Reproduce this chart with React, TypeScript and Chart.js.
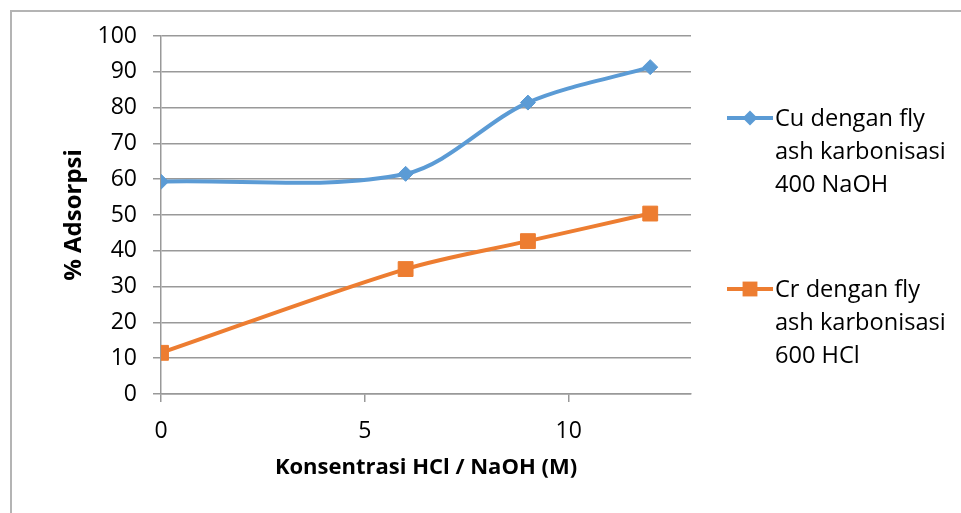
import React, { useEffect, useRef } from "react";
import { Chart, registerables } from "chart.js";

Chart.register(...registerables);

const xValues = [0, 6, 9, 12];
const cuValues = [59.3, 61.5, 81.4, 91.3];
const crValues = [11.5, 34.9, 42.7, 50.4];
const seriesLabels = [
  ["Cu dengan fly", "ash karbonisasi", "400 NaOH"],
  ["Cr dengan fly", "ash karbonisasi", "600 HCl"],
];
const xTitle = "Konsentrasi HCl / NaOH (M)";
const yTitle = "% Adsorpsi";
const xTicks = [0, 5, 10];

const BLUE = "#5b9bd5";
const ORANGE = "#ed7d31";
const GRID = "#999999";
const FONT = "'Open Sans', Lato, sans-serif";

const legendPlugin = {
  id: "sideLegend",
  afterDraw(chart: any) {
    const ctx = chart.ctx;
    const items = [
      { y: 118, color: BLUE, style: "rectRot", radius: 7.5 },
      { y: 289, color: ORANGE, style: "rect", radius: 10.5 },
    ];
    ctx.save();
    chart.data.datasets.forEach((ds: any, i: number) => {
      const it = items[i];
      ctx.strokeStyle = it.color;
      ctx.lineWidth = 4;
      ctx.beginPath();
      ctx.moveTo(727, it.y);
      ctx.lineTo(773, it.y);
      ctx.stroke();
      ctx.fillStyle = it.color;
      ctx.beginPath();
      if (it.style === "rect") {
        const s = it.radius * Math.SQRT1_2;
        ctx.rect(750 - s, it.y - s, 2 * s, 2 * s);
      } else {
        ctx.moveTo(750, it.y - it.radius);
        ctx.lineTo(750 + it.radius, it.y);
        ctx.lineTo(750, it.y + it.radius);
        ctx.lineTo(750 - it.radius, it.y);
        ctx.closePath();
      }
      ctx.fill();
      ctx.fillStyle = "#000";
      ctx.font = `23.6px ${FONT}`;
      ctx.textBaseline = "middle";
      ctx.textAlign = "left";
      const lines: string[] = ds.label;
      lines.forEach((ln, j) => {
        ctx.fillText(ln, 775, it.y + 1 + j * 33);
      });
    });
    ctx.restore();
  },
};

export default function App() {
  const ref = useRef<HTMLCanvasElement>(null);
  useEffect(() => {
    document.body.style.margin = "0";
    const chart = new Chart(ref.current!, {
      type: "scatter",
      data: {
        datasets: [
          {
            label: seriesLabels[0] as any,
            data: xValues.map((x, i) => ({ x, y: cuValues[i] })),
            showLine: true,
            borderColor: BLUE,
            backgroundColor: BLUE,
            borderWidth: 4,
            pointStyle: "rectRot",
            pointRadius: 7.5,
            pointBorderWidth: 1,
            tension: 0.32,
          },
          {
            label: seriesLabels[1] as any,
            data: xValues.map((x, i) => ({ x, y: crValues[i] })),
            showLine: true,
            borderColor: ORANGE,
            backgroundColor: ORANGE,
            borderWidth: 4,
            pointStyle: "rect",
            pointRadius: 10.5,
            pointBorderWidth: 1,
            tension: 0.32,
          },
        ],
      },
      options: {
        animation: false,
        responsive: false,
        layout: { padding: { top: 36, right: 270, left: 0, bottom: 0 } },
        plugins: { legend: { display: false }, tooltip: { enabled: false } },
        scales: {
          x: {
            type: "linear",
            min: 0,
            max: 13,
            afterBuildTicks: (scale: any) => {
              scale.ticks = xTicks.map((v) => ({ value: v }));
            },
            afterFit: (scale: any) => {
              scale.height = 119;
            },
            grid: {
              drawOnChartArea: false,
              drawTicks: true,
              tickLength: 8,
              color: GRID,
              lineWidth: 1.5,
            },
            border: { display: true, color: GRID, width: 1.5 },
            ticks: {
              font: { family: FONT, size: 23 },
              color: "#000",
              padding: 16,
              maxRotation: 0,
            },
            title: {
              display: true,
              text: xTitle,
              font: { family: FONT, size: 22, weight: "bold" },
              color: "#000",
              padding: { top: 0, bottom: 32 },
            },
          },
          y: {
            min: 0,
            max: 100,
            ticks: {
              stepSize: 10,
              font: { family: FONT, size: 23 },
              color: "#000",
              padding: 16,
            },
            afterFit: (scale: any) => {
              scale.width = 161;
            },
            grid: {
              drawTicks: true,
              tickLength: 8,
              color: GRID,
              lineWidth: 1.5,
            },
            border: { display: true, color: GRID, width: 1.5 },
            title: {
              display: true,
              text: yTitle,
              font: { family: FONT, size: 24, weight: "bold" },
              color: "#000",
              padding: { top: 60, bottom: 0 },
            },
          },
        },
      },
      plugins: [legendPlugin],
    });
    return () => chart.destroy();
  }, []);
  return (
    <div style={{ position: "fixed", left: 0, top: 0, width: 961, height: 513, background: "#fff", overflow: "hidden" }}>
      <div
        style={{
          position: "absolute",
          left: 10,
          top: 10,
          width: 1000,
          height: 600,
          border: "2px solid #b4b4b4",
        }}
      />
      <canvas ref={ref} width={961} height={513} style={{ position: "absolute", left: 0, top: 0 }} />
    </div>
  );
}
